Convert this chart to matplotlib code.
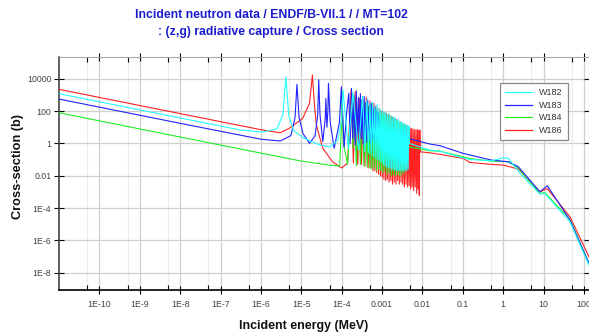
import matplotlib
matplotlib.use("Agg")
import matplotlib.pyplot as plt
from matplotlib.ticker import FixedLocator, FixedFormatter, NullFormatter
from matplotlib.lines import Line2D

# ---------------- data (energy in MeV, cross-section in barns) ----------------
w182_e = [1e-11, 1e-8, 3e-7, 1.1e-6, 2.5e-6, 3.5e-6, 4.15e-6, 4.9e-6, 6.5e-6, 1.2e-5, 2.5e-5, 5.0e-5, 8.0e-5, 1.0e-4,
          1.08e-4, 1.45e-4, 1.9e-4, 2.6e-4, 3.3e-4, 3.75e-4, 4.2e-4, 4.6e-4, 5.0e-4, 5.4e-4, 5.8e-4, 6.2e-4,
          6.6e-4, 7.05e-4, 7.5e-4, 7.95e-4, 8.4e-4, 8.85e-4, 9.3e-4, 9.8e-4, 1.03e-3, 1.08e-3, 1.13e-3, 1.18e-3,
          1.24e-3, 1.3e-3, 1.36e-3, 1.43e-3, 1.5e-3, 1.57e-3, 1.65e-3, 1.72e-3, 1.8e-3, 1.88e-3, 1.97e-3, 2.06e-3,
          2.15e-3, 2.25e-3, 2.35e-3, 2.45e-3, 2.56e-3, 2.68e-3, 2.8e-3, 2.92e-3, 3.05e-3, 3.17e-3, 3.3e-3, 3.45e-3,
          3.6e-3, 3.75e-3, 3.9e-3, 4.07e-3, 4.25e-3, 4.42e-3, 4.6e-3, 4.7e-3,
          0.0152, 0.0269, 0.102, 0.149, 0.515, 1.0, 1.33, 2.6, 8.1, 10.7, 45, 133]
w182_xs = [1180, 37.3, 6.8, 5.0, 8, 60, 13000, 50, 6, 2.0, 0.9, 0.6, 1.5, 30,
           2000, 0.5, 1500, 0.4, 800, 0.3, 500, 0.25, 300, 0.2, 350, 0.15,
           200, 0.12, 250, 0.1, 150, 0.08, 120, 0.07, 100, 0.05, 90, 0.04,
           80, 0.035, 60, 0.03, 70, 0.03, 50, 0.025, 45, 0.025, 40, 0.022,
           35, 0.022, 30, 0.02, 28, 0.022, 22, 0.02, 20, 0.022, 18, 0.02,
           16, 0.022, 14, 0.02, 13, 0.025, 12, 1.0,
           0.385, 0.33, 0.125, 0.10, 0.084, 0.128, 0.118, 0.014, 7.2e-4, 8e-4, 1.4e-5, 2.9e-8]

w183_e = [1e-11, 1e-8, 1e-6, 3e-6, 5.5e-6, 7.0e-6, 7.8e-6, 8.8e-6, 1.1e-5, 1.6e-5, 2.2e-5, 2.55e-5, 2.7e-5, 2.9e-5,
          3.4e-5, 3.9e-5, 4.06e-5, 4.3e-5, 4.55e-5, 4.7e-5, 5.2e-5, 6.5e-5, 8.8e-5, 9.8e-5, 1.15e-4, 1.3e-4,
          1.5e-4, 1.62e-4, 1.75e-4, 1.87e-4, 2.0e-4, 2.15e-4, 2.3e-4, 2.45e-4, 2.6e-4, 2.75e-4, 2.9e-4, 3.05e-4,
          3.2e-4, 3.4e-4, 3.6e-4, 3.8e-4, 4.0e-4, 4.2e-4, 4.4e-4, 4.65e-4, 4.9e-4, 5.15e-4, 5.4e-4, 5.7e-4,
          6.0e-4, 6.3e-4, 6.6e-4, 6.95e-4, 7.3e-4, 7.65e-4, 8.0e-4, 9.0e-4, 2.0e-3, 4.6e-3,
          0.0152, 0.0269, 0.102, 0.515, 1.33, 2.36, 8.1, 12.3, 45, 133]
w183_xs = [550, 17.4, 1.8, 1.4, 3, 40, 4500, 40, 4, 1.0, 3, 60, 8500, 60,
           1.3, 30, 600, 10, 100, 5200, 20, 0.5, 20, 3200, 0.6, 50,
           1250, 1.0, 2500, 2.0, 900, 0.8, 1800, 1.5, 700, 1.0, 1200, 2.0,
           500, 0.9, 800, 1.5, 350, 1.2, 500, 2.0, 250, 1.0, 300, 1.8,
           150, 1.2, 200, 2.0, 100, 1.5, 80, 3.5, 3.0, 2.0,
           0.91, 0.72, 0.24, 0.092, 0.073, 0.036, 1.0e-3, 2.4e-3, 1.8e-5, 3.7e-8]

w184_e = [1e-11, 1e-8, 1e-6, 1e-5, 5e-5, 8.9e-5, 9.7e-5, 1.02e-4, 1.1e-4, 1.4e-4, 1.78e-4, 1.9e-4, 2.03e-4,
          2.3e-4, 2.6e-4, 2.9e-4, 3.2e-4, 3.55e-4, 3.9e-4, 4.25e-4, 4.6e-4, 4.95e-4, 5.3e-4, 5.6e-4, 5.9e-4,
          6.35e-4, 6.8e-4, 7.25e-4, 7.7e-4, 8.2e-4, 8.7e-4, 9.25e-4, 9.8e-4, 1.04e-3, 1.1e-3, 1.17e-3, 1.25e-3,
          1.32e-3, 1.4e-3, 1.5e-3, 1.6e-3, 1.7e-3, 1.8e-3, 1.9e-3, 2.0e-3, 2.15e-3, 2.3e-3, 2.45e-3, 2.6e-3,
          2.75e-3, 2.9e-3, 3.1e-3, 3.3e-3, 3.5e-3, 3.7e-3, 3.8e-3, 4.6e-3,
          0.0152, 0.0269, 0.102, 0.149, 0.515, 1.33, 2.36, 8.1, 10.7, 45, 133]
w184_xs = [78, 2.47, 0.25, 0.08, 0.045, 0.04, 5, 1500, 1, 0.05, 700, 0.5, 900,
           0.04, 300, 0.05, 500, 0.04, 300, 0.035, 200, 0.03, 250, 0.025, 150,
           0.03, 120, 0.02, 100, 0.025, 80, 0.02, 70, 0.015, 60, 0.02, 50,
           0.012, 45, 0.015, 40, 0.01, 35, 0.012, 30, 0.01, 25, 0.012, 20,
           0.01, 18, 0.012, 15, 0.015, 12, 0.6, 0.6,
           0.35, 0.33, 0.148, 0.115, 0.080, 0.073, 0.03, 8e-4, 9e-4, 2.0e-5, 3.7e-8]

w186_e = [1e-11, 1e-8, 1e-6, 3e-6, 5e-6, 1.08e-5, 1.6e-5, 1.88e-5, 2.1e-5, 2.36e-5, 3.4e-5, 6.0e-5, 1.0e-4, 1.4e-4,
          1.71e-4, 1.95e-4, 2.15e-4, 2.5e-4, 2.8e-4, 3.1e-4, 3.4e-4, 3.75e-4, 4.06e-4, 4.5e-4,
          4.98e-4, 5.3e-4, 5.6e-4, 5.95e-4, 6.3e-4, 6.65e-4, 7.0e-4, 7.4e-4, 7.8e-4, 8.25e-4,
          8.7e-4, 9.15e-4, 9.6e-4, 1.01e-3, 1.06e-3, 1.11e-3, 1.17e-3, 1.23e-3, 1.29e-3, 1.35e-3,
          1.42e-3, 1.49e-3, 1.56e-3, 1.64e-3, 1.72e-3, 1.81e-3, 1.9e-3, 2.0e-3, 2.1e-3, 2.2e-3,
          2.3e-3, 2.42e-3, 2.55e-3, 2.67e-3, 2.8e-3, 2.95e-3, 3.1e-3, 3.25e-3, 3.4e-3, 3.57e-3,
          3.75e-3, 3.92e-3, 4.1e-3, 4.3e-3, 4.5e-3, 4.7e-3, 4.9e-3, 5.1e-3, 5.3e-3, 5.55e-3,
          5.8e-3, 6.05e-3, 6.3e-3, 6.6e-3, 6.9e-3, 7.2e-3, 7.5e-3, 7.8e-3, 8.1e-3, 8.35e-3,
          8.6e-3, 8.8e-3,
          0.0152, 0.0269, 0.102, 0.149, 0.515, 1.0, 2.36, 8.1, 12.3, 45, 133]
w186_xs = [2200, 69.6, 7.0, 4.5, 8.5, 35, 300, 17000, 300, 13.5, 0.49, 0.07, 0.03, 0.06,
           2000, 0.06, 1500, 0.05, 600, 0.05, 500, 0.04, 700, 0.03,
           400, 0.03, 250, 0.02, 300, 0.02, 200, 0.015, 150, 0.012,
           120, 0.01, 100, 0.008, 90, 0.006, 80, 0.005, 70, 0.006,
           60, 0.004, 55, 0.005, 45, 0.003, 40, 0.004, 35, 0.003,
           30, 0.005, 25, 0.003, 22, 0.004, 18, 0.003, 15, 0.002,
           14, 0.003, 12, 0.002, 10, 0.0025, 9, 0.0015, 8, 0.002,
           8, 0.0012, 7, 0.002, 7, 0.0008, 7, 0.0015, 6.5, 0.0006,
           6.5, 0.3,
           0.26, 0.21, 0.118, 0.066, 0.050, 0.045, 0.026, 1.0e-3, 1.6e-3, 2.9e-5, 9.5e-8]

isotopes = ["W182", "W183", "W184", "W186"]
colors = ["#22ffff", "#2222ff", "#22ee22", "#ff2222"]
series = [(w182_e, w182_xs), (w183_e, w183_xs), (w184_e, w184_xs), (w186_e, w186_xs)]

x_ticks = [1e-10, 1e-9, 1e-8, 1e-7, 1e-6, 1e-5, 1e-4, 1e-3, 1e-2, 1e-1, 1, 10, 100]
x_labels = ["1E-10", "1E-9", "1E-8", "1E-7", "1E-6", "1E-5", "1E-4", "0.001", "0.01", "0.1", "1", "10", "100"]
x_minor = [5e-11, 5e-10, 5e-9, 5e-8, 5e-7, 5e-6, 5e-5, 5e-4, 5e-3, 5e-2, 0.5, 5, 50]
y_ticks = [1e-8, 1e-6, 1e-4, 1e-2, 1, 100, 10000]
y_labels = ["1E-8", "1E-6", "1E-4", "0.01", "1", "100", "10000"]

title_lines = ["Incident neutron data / ENDF/B-VII.1 / / MT=102", ": (z,g) radiative capture / Cross section"]

# ---------------- figure ----------------
W, H = 589, 335
fig = plt.figure(figsize=(W / 100, H / 100), dpi=100)
ax = fig.add_axes([59 / W, 45 / H, 530 / W, 233 / H])
ax.set_xscale("log")
ax.set_yscale("log")
ax.set_xlim(1.0e-11, 1.33e2)
ax.set_ylim(8.5e-10, 2.2e5)

zorders = [6, 5, 4, 3]
for (e, xs), c, z, name in zip(series, colors, zorders, isotopes):
    ax.plot(e, xs, color=c, lw=0.8, zorder=z, label=name)

narrow = ["Liberation Sans Narrow", "Liberation Sans", "DejaVu Sans"]
regular = ["Liberation Sans", "DejaVu Sans"]

ax.xaxis.set_major_locator(FixedLocator(x_ticks))
ax.xaxis.set_major_formatter(FixedFormatter(x_labels))
ax.xaxis.set_minor_locator(FixedLocator(x_minor))
ax.xaxis.set_minor_formatter(NullFormatter())
ax.yaxis.set_major_locator(FixedLocator(y_ticks))
ax.yaxis.set_major_formatter(FixedFormatter(y_labels))
ax.yaxis.set_minor_locator(FixedLocator([]))

ax.grid(which="major", color="#cfcfcf", lw=0.9, zorder=0)
ax.grid(which="minor", axis="x", color="#ececec", lw=0.8, zorder=0)
ax.set_axisbelow(True)

ax.tick_params(axis="x", which="major", direction="inout", length=6, width=0.8, color="black",
               labelsize=6.3, labelcolor="#444444", pad=4, top=True)
ax.tick_params(axis="x", which="minor", direction="in", length=3.5, width=0.8, color="black", top=True)
ax.tick_params(axis="y", which="major", direction="inout", length=7, width=0.8, color="black",
               labelsize=6.3, labelcolor="#444444", pad=2, right=True)
for lab in ax.get_xticklabels() + ax.get_yticklabels():
    lab.set_family(narrow)

for s in ["top", "right"]:
    ax.spines[s].set_color("#aaaaaa")
    ax.spines[s].set_linewidth(0.8)
ax.spines["left"].set_color("#444444")
ax.spines["left"].set_linewidth(1.2)
ax.spines["bottom"].set_color("black")
ax.spines["bottom"].set_linewidth(1.2)

fig.text(271 / W, 1 - 15 / H, title_lines[0], ha="center", va="center", color="#1c1ccf",
         fontsize=8.8, fontweight="bold", family=narrow)
fig.text(271 / W, 1 - 32.5 / H, title_lines[1], ha="center", va="center", color="#1c1ccf",
         fontsize=8.8, fontweight="bold", family=narrow)

fig.text(304 / W, 1 - 326.5 / H, "Incident energy (MeV)", ha="center", va="center",
         fontsize=8.9, fontweight="bold", family=regular, color="#111111")
fig.text(18 / W, 1 - 167 / H, "Cross-section (b)", ha="center", va="center", rotation=90,
         fontsize=9.2, fontweight="bold", family=regular, color="#111111")

handles = [Line2D([], [], color=c, lw=0.9) for c in colors]
leg = ax.legend(handles, isotopes, loc="upper left", bbox_to_anchor=(500 / W, 1 - 83 / H),
                bbox_transform=fig.transFigure, fancybox=False, framealpha=1, edgecolor="#888888",
                prop={"family": regular, "size": 6.5}, handlelength=2.9, handletextpad=0.8,
                labelspacing=0.38, borderpad=0.6, borderaxespad=0)
leg.get_frame().set_linewidth(0.9)
for t in leg.get_texts():
    t.set_color("#333333")

fig.savefig("out.png", dpi=100)
